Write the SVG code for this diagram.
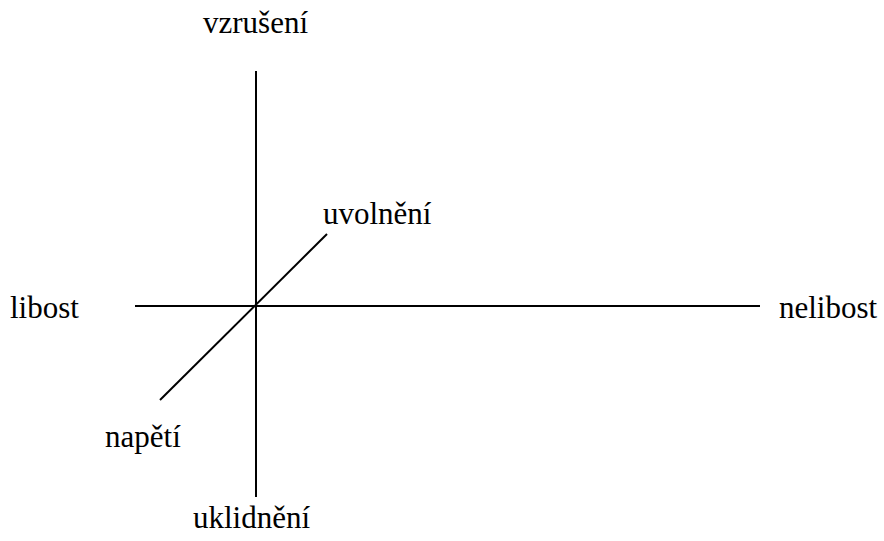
<svg xmlns="http://www.w3.org/2000/svg" width="884" height="541" viewBox="0 0 884 541">
<defs>
<style>
.ax{stroke:#000;stroke-width:2;fill:none}
.t{font-family:'Liberation Serif','Times New Roman',Times,serif;font-size:31px;fill:#000}
</style>
</defs>
<rect width="884" height="541" fill="#fff"/>
<g id="connectors">
<line class="ax" x1="256" y1="71" x2="256" y2="497"/>
<line class="ax" x1="135" y1="306" x2="760" y2="306"/>
<line class="ax" x1="160" y1="400" x2="327" y2="234"/>
</g>
<g id="vzruseni"><text class="t" x="203" y="33" font-family="Liberation Serif, serif">vzrušení</text></g>
<g id="uklidneni"><text class="t" x="193" y="528" font-family="Liberation Serif, serif">uklidnění</text></g>
<g id="libost"><text class="t" x="10" y="318" font-family="Liberation Serif, serif">libost</text></g>
<g id="nelibost"><text class="t" x="779" y="318" font-family="Liberation Serif, serif">nelibost</text></g>
<g id="uvolneni"><text class="t" x="323" y="224" font-family="Liberation Serif, serif">uvolnění</text></g>
<g id="napeti"><text class="t" x="105" y="447" font-family="Liberation Serif, serif">napětí</text></g>
</svg>
